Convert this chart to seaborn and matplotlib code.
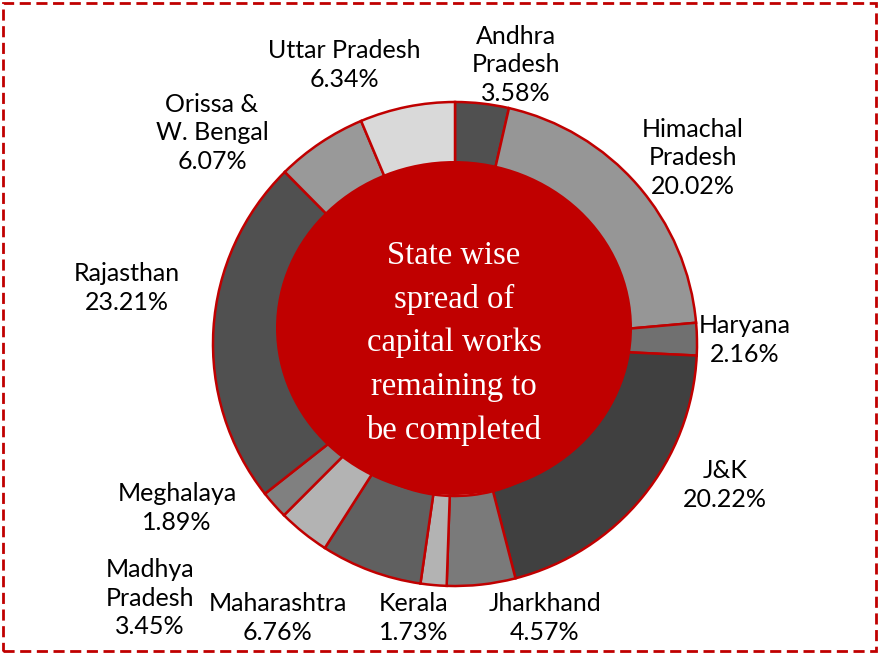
import matplotlib
matplotlib.use("Agg")
import matplotlib.pyplot as plt
from matplotlib.patches import Ellipse, Rectangle
import seaborn as sns

# data (clockwise from 12 o'clock)
states = ["Andhra\nPradesh", "Himachal\nPradesh", "Haryana", "J&K", "Jharkhand",
          "Kerala", "Maharashtra", "Madhya\nPradesh", "Meghalaya", "Rajasthan",
          "Orissa &\nW. Bengal", "Uttar Pradesh"]
share = [3.58, 20.02, 2.16, 20.22, 4.57, 1.73, 6.76, 3.45, 1.89, 23.21, 6.07, 6.34]
greys = ["#505050", "#969696", "#707070", "#404040", "#7a7a7a", "#b3b3b3",
         "#606060", "#b3b3b3", "#808080", "#505050", "#999999", "#d9d9d9"]

# label centres in pixels (x, y from top)
label_pos = [(516, 65), (693, 158), (745, 340), (725, 485), (545, 618),
             (414, 618), (278, 618), (150, 598), (177, 508), (127, 288),
             (212, 133), (344, 65)]

W, H = 879, 654
red = "#c00000"

sns.set_style("white")
plt.rcParams["font.family"] = ["Lato", "DejaVu Sans"]

fig = plt.figure(figsize=(W / 100, H / 100), dpi=100)
ax = fig.add_axes([0, 0, 1, 1])

ax.pie(share, colors=greys, startangle=90, counterclock=False,
       center=(455, H - 344), radius=242, frame=True,
       wedgeprops=dict(width=90, edgecolor=red, linewidth=1.8))
ax.set_xlim(0, W)
ax.set_ylim(0, H)
ax.set_aspect("equal")
ax.axis("off")

ax.add_patch(Ellipse((454, H - 328), 356, 334, facecolor=red, edgecolor="none", zorder=5))
ax.text(454, H - 343, "State wise\nspread of\ncapital works\nremaining to\nbe completed",
        ha="center", va="center", color="white", fontsize=23.5,
        family=["Liberation Serif", "DejaVu Serif"], linespacing=1.55, zorder=6)

for name, val, (px, py) in zip(states, share, label_pos):
    ax.text(px, H - py, f"{name}\n{val:.2f}%", ha="center", va="center",
            fontsize=18, color="black", linespacing=1.28)

fig.patches.append(Rectangle((3 / W, 3 / H), (W - 6) / W, (H - 6) / H,
                             transform=fig.transFigure, fill=False,
                             edgecolor=red, linewidth=2,
                             linestyle=(0, (4, 2))))

fig.savefig("out.png", dpi=100)
